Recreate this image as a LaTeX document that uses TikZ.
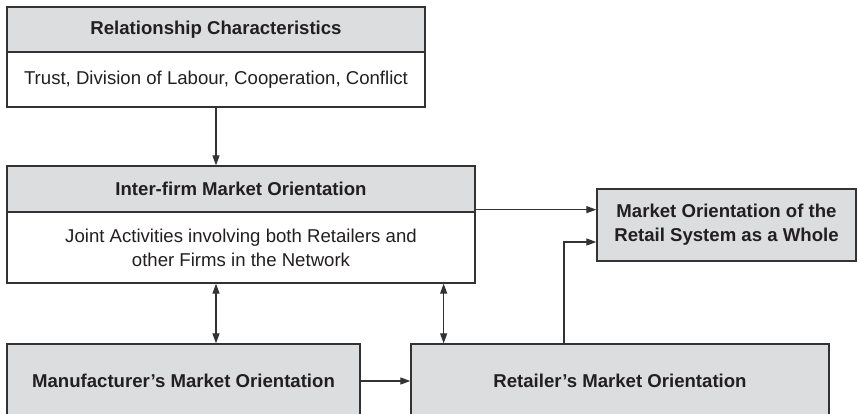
\documentclass[tikz,border=0pt]{standalone}
\usepackage{fontspec}
\setmainfont{Liberation Sans}
\usetikzlibrary{arrows.meta}
\definecolor{boxgray}{HTML}{DCDDDF}
\definecolor{linegray}{HTML}{333333}
\definecolor{inkgray}{HTML}{231F20}

\begin{document}
\begin{tikzpicture}[x=1pt,y=-1pt,font=\fontsize{18.6}{24}\selectfont]
        \tikzstyle{every node}+=[inner sep=0pt, text=inkgray]
        \tikzstyle{head}=[draw=linegray, line width=1.3pt, fill=boxgray, font=\fontsize{18.6}{24}\selectfont\bfseries]
        \tikzstyle{body}=[draw=linegray, line width=1.3pt, fill=white, align=center]
        \tikzstyle{link}=[draw=linegray, line width=1.2pt, -{Triangle[length=10pt,width=7pt]}]
        \useasboundingbox (0,0) rectangle (857,414);
        \clip (0,0) rectangle (857,414);
        \node [head, minimum width=418pt, minimum height=45pt] (relhead) at (216,29.5) {Relationship Characteristics};
        \node [body, minimum width=418pt, minimum height=55pt] (relbody) at (216,79.5) {Trust, Division of Labour, Cooperation, Conflict};
        \node [head, minimum width=468pt, minimum height=46pt] (inthead) at (241,189) {Inter-firm Market Orientation};
        \node [body, minimum width=468pt, minimum height=71pt] (intbody) at (241,247.5) {Joint Activities involving both Retailers and\\other Firms in the Network};
        \node [head, align=center, minimum width=259pt, minimum height=72pt] (market) at (726.5,225) {Market Orientation of the\\Retail System as a Whole};
        \node [head, minimum width=353pt, minimum height=74pt] (manu) at (183.5,381) {Manufacturer’s Market Orientation};
        \node [head, minimum width=418pt, minimum height=74pt] (retail) at (620,381) {Retailer’s Market Orientation};
        \draw [link] (relbody.south) -- (relbody.south |- inthead.north);
        \draw [link] ([yshift=3pt]inthead.south east) -- ([yshift=3pt]inthead.south east -| market.west);
        \draw [link, {Triangle[length=10pt,width=7pt]}-{Triangle[length=10pt,width=7pt]}] (intbody.south -| relbody.south) -- (manu.north -| relbody.south);
        \draw [link, {Triangle[length=10pt,width=7pt]}-{Triangle[length=10pt,width=7pt]}] ([xshift=-32pt]intbody.south east) -- ([xshift=-32pt]intbody.south east |- retail.north);
        \draw [link] (manu.east) -- (retail.west);
        \draw [link] ([xshift=-56pt]retail.north) |- ([yshift=-17pt]market.west);
\end{tikzpicture}
\end{document}
